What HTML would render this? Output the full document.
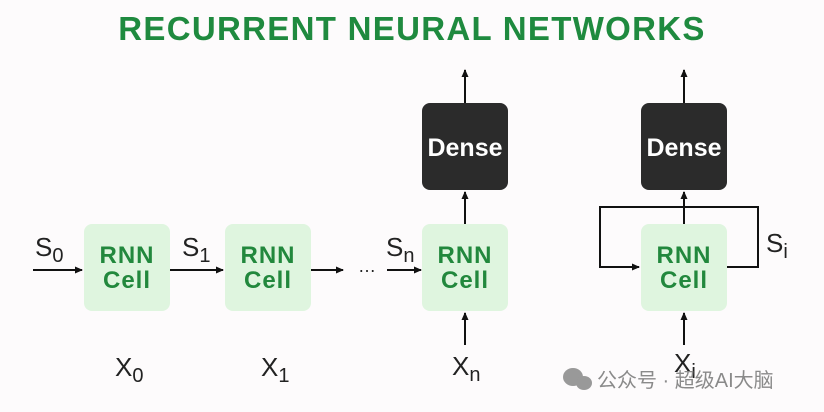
<!DOCTYPE html>
<html><head><meta charset="utf-8"><style>
body{margin:0;background:#fdfbfc;}
svg{display:block;font-family:"Liberation Sans","Noto Sans CJK SC",sans-serif;}
</style></head><body>
<svg width="824" height="412" viewBox="0 0 824 412">
<defs><marker id="a" markerWidth="8" markerHeight="8" refX="7" refY="4" orient="auto" markerUnits="userSpaceOnUse"><path d="M0,0.5 L8,4 L0,7.5 z" fill="#111"/></marker></defs>
<rect width="824" height="412" fill="#fdfbfc"/>
<text x="412" y="40" text-anchor="middle" font-size="33" font-weight="bold" fill="#1f8a3f" letter-spacing="1.3">RECURRENT NEURAL NETWORKS</text>
<g fill="#dff5df">
<rect x="84" y="224" width="86" height="87" rx="8"/>
<rect x="225" y="224" width="86" height="87" rx="8"/>
<rect x="422" y="224" width="86" height="87" rx="8"/>
<rect x="641" y="224" width="86" height="87" rx="8"/>
</g>
<g fill="#2b2b2b"><rect x="422" y="103" width="86" height="87" rx="8"/><rect x="641" y="103" width="86" height="87" rx="8"/></g>
<g font-size="24" font-weight="bold" fill="#22883d" text-anchor="middle" letter-spacing="1">
<text x="127" y="263">RNN</text><text x="127" y="288">Cell</text>
<text x="268" y="263">RNN</text><text x="268" y="288">Cell</text>
<text x="465" y="263">RNN</text><text x="465" y="288">Cell</text>
<text x="684" y="263">RNN</text><text x="684" y="288">Cell</text>
</g>
<g font-size="25" font-weight="bold" fill="#fff" text-anchor="middle">
<text x="465" y="156">Dense</text><text x="684" y="156">Dense</text></g>
<g stroke="#111" stroke-width="2" fill="none" marker-end="url(#a)">
<line x1="33" y1="270" x2="82" y2="270"/>
<line x1="170" y1="270" x2="223" y2="270"/>
<line x1="311" y1="270" x2="343" y2="270"/>
<line x1="387" y1="270" x2="421" y2="270"/>
<line x1="465" y1="103" x2="465" y2="70"/>
<line x1="465" y1="224" x2="465" y2="192"/>
<line x1="465" y1="345" x2="465" y2="313"/>
<line x1="684" y1="103" x2="684" y2="70"/>
<line x1="684" y1="224" x2="684" y2="192"/>
<line x1="684" y1="345" x2="684" y2="313"/>
<polyline points="727,267 758,267 758,207 600,207 600,267 639,267"/>
</g>
<text x="358" y="272" font-size="18" fill="#222">…</text>
<g font-size="26" fill="#222">
<text x="35" y="256">S<tspan font-size="20" dy="6">0</tspan></text>
<text x="182" y="256">S<tspan font-size="20" dy="6">1</tspan></text>
<text x="386" y="256">S<tspan font-size="20" dy="6">n</tspan></text>
<text x="766" y="252">S<tspan font-size="20" dy="6">i</tspan></text>
<text x="115" y="376">X<tspan font-size="20" dy="6">0</tspan></text>
<text x="261" y="376">X<tspan font-size="20" dy="6">1</tspan></text>
<text x="452" y="375">X<tspan font-size="20" dy="6">n</tspan></text>
<text x="674" y="372">X<tspan font-size="20" dy="6">i</tspan></text>
</g>
<g fill="#999"><ellipse cx="573" cy="377" rx="10" ry="9"/><ellipse cx="584" cy="383" rx="8" ry="7"/></g>
<text x="597" y="387" font-size="20" fill="#8a8a8a">公众号 · 超级AI大脑</text>
</svg>
</body></html>
